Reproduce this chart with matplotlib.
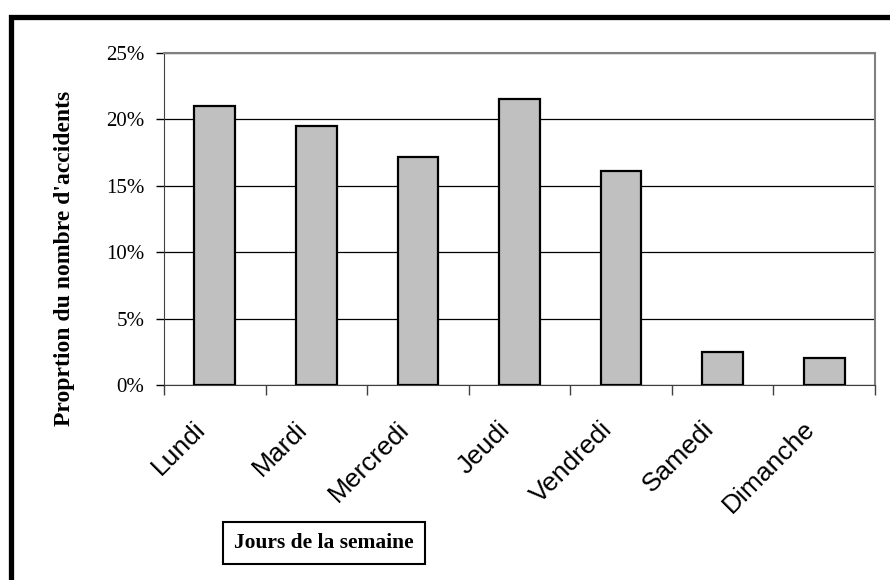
import matplotlib
matplotlib.use("Agg")
import matplotlib.pyplot as plt
from matplotlib.patches import Rectangle
from matplotlib.ticker import FuncFormatter, FixedLocator, NullFormatter
from matplotlib.transforms import ScaledTranslation

days = ["Lundi", "Mardi", "Mercredi", "Jeudi", "Vendredi", "Samedi", "Dimanche"]
proportions = [21.0, 19.5, 17.2, 21.5, 16.1, 2.5, 2.0]
y_ticks = [0, 5, 10, 15, 20, 25]

fig = plt.figure(figsize=(8.9, 5.8), dpi=100)
ax = fig.add_axes([164/890, 1-385/580, (875-164)/890, (385-53)/580])

x = list(range(len(days)))
ax.bar(x, proportions, width=0.4, color="#C0C0C0", edgecolor="black", linewidth=1.6, zorder=3)

ax.set_xlim(-0.5, len(days)-0.5)
ax.set_ylim(0, 25)
ax.set_yticks(y_ticks)
ax.yaxis.set_major_formatter(FuncFormatter(lambda v, p: f"{int(v)}%"))
ax.yaxis.grid(True, color="black", linewidth=0.9, zorder=1)
ax.tick_params(axis="y", direction="out", length=6, width=1, pad=8, labelsize=15)
for lab in ax.get_yticklabels():
    lab.set_fontfamily("Liberation Serif")

ax.xaxis.set_minor_locator(FixedLocator([i - 0.5 for i in range(len(days)+1)]))
ax.xaxis.set_minor_formatter(NullFormatter())
ax.tick_params(axis="x", which="minor", direction="out", length=7, width=1, color="#404040")
ax.tick_params(axis="x", which="major", length=0, pad=29)
ax.set_xticks(x)
ax.set_xticklabels(days, rotation=45, ha="right", va="center", rotation_mode="anchor",
                   fontfamily="Liberation Sans", fontsize=19)
shift = ScaledTranslation(-13/100, 0, fig.dpi_scale_trans)
for tick in ax.xaxis.get_major_ticks():
    tick.label1.set_transform(tick.label1.get_transform() + shift)

ax.spines["top"].set_color("#808080")
ax.spines["right"].set_color("#808080")
ax.spines["top"].set_linewidth(1.5)
ax.spines["right"].set_linewidth(1.5)
ax.spines["left"].set_color("#404040")
ax.spines["bottom"].set_color("#404040")

fig.text(65/890, 1-258/580, "Proprtion du nombre d'accidents", rotation=90,
         ha="center", va="center", fontfamily="Liberation Serif",
         fontweight="bold", fontsize=17)

fig.text(324/890, 1-543/580, "Jours de la semaine", ha="center", va="center",
         fontfamily="Liberation Serif", fontweight="bold", fontsize=15.5,
         bbox=dict(boxstyle="square,pad=0.5", facecolor="white",
                   edgecolor="black", linewidth=1.5))

border = Rectangle((10.5/890, -0.05), 1.2, 1 - 16.5/580 + 0.05,
                   transform=fig.transFigure, fill=False, edgecolor="black",
                   linewidth=3.8, clip_on=False)
fig.patches.append(border)

fig.savefig("out.png", dpi=100)
